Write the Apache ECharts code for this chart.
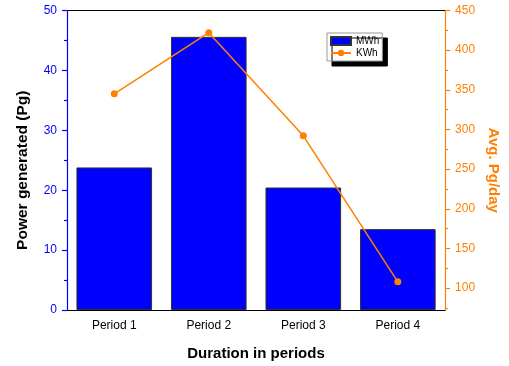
<!DOCTYPE html>
<html><head><meta charset="utf-8">
<script src="https://cdn.jsdelivr.net/npm/echarts@6/dist/echarts.min.js"></script>
<style>html,body{margin:0;padding:0;background:#fff}#c{width:509px;height:366px}</style>
</head><body><div id="c"></div>
<script>
const categories = ['Period 1', 'Period 2', 'Period 3', 'Period 4'];
const mwh = [23.8, 45.6, 20.45, 13.5];
const kwh = [345, 422, 292, 108];
const rightMajorTicks = [100, 150, 200, 250, 300, 350, 400, 450];
const rightMinorTicks = [75, 125, 175, 225, 275, 325, 375, 425];

const FONT = 'Liberation Sans, Arial, sans-serif';
const BLUE = '#0000ff', ORANGE = '#ff8000';
const chart = echarts.init(document.getElementById('c'), null, {renderer: 'canvas'});
const grid = {left: 67, right: 61, top: 10.5, bottom: 54, containLabel: false};
const rMin = 72.5, rMax = 450;
chart.setOption({
  animation: false,
  grid: grid,
  legend: {
    orient: 'vertical', left: 327, top: 33,
    backgroundColor: '#fff', borderColor: '#999', borderWidth: 1,
    shadowColor: '#000', shadowBlur: 0, shadowOffsetX: 5, shadowOffsetY: 5,
    padding: [2, 3, 2, 3], itemGap: 0, itemWidth: 20, itemHeight: 8,
    textStyle: {fontFamily: FONT, fontSize: 10, color: '#000', lineHeight: 12},
    data: [{name: 'MWh', icon: 'rect'}, {name: 'KWh'}]
  },
  xAxis: [
    {type: 'category', data: categories, position: 'bottom',
     axisLine: {lineStyle: {color: '#000', width: 1.2}},
     axisTick: {alignWithLabel: true, length: 5, lineStyle: {color: '#000', width: 1.2}},
     axisLabel: {fontFamily: FONT, fontSize: 12, color: '#000', margin: 10},
     name: 'Duration in periods', nameLocation: 'middle', nameGap: 36,
     nameTextStyle: {fontFamily: FONT, fontSize: 15, fontWeight: 'bold', color: '#000'}},
    {type: 'category', data: categories, position: 'bottom',
     axisLine: {show: false},
     axisTick: {length: 3, lineStyle: {color: '#000', width: 1.2}},
     axisLabel: {show: false}},
    {type: 'category', data: categories, position: 'top',
     axisLine: {lineStyle: {color: '#000', width: 1.2}},
     axisTick: {alignWithLabel: true, inside: true, length: 6, lineStyle: {color: '#000', width: 1.2}},
     axisLabel: {show: false}},
    {type: 'category', data: categories, position: 'top',
     axisLine: {show: false},
     axisTick: {inside: true, length: 4, lineStyle: {color: '#000', width: 1.2}},
     axisLabel: {show: false}}
  ],
  yAxis: [
    {type: 'value', min: 0, max: 50, interval: 10, position: 'left',
     axisLine: {show: true, lineStyle: {color: BLUE, width: 1.2}},
     axisTick: {show: true, length: 5, lineStyle: {color: BLUE, width: 1.2}},
     minorTick: {show: true, splitNumber: 2, length: 3, lineStyle: {color: BLUE, width: 1.2}},
     splitLine: {show: false},
     axisLabel: {fontFamily: FONT, fontSize: 12, color: BLUE, margin: 10},
     name: 'Power generated (Pg)', nameLocation: 'middle', nameGap: 36,
     nameTextStyle: {fontFamily: FONT, fontSize: 15.5, fontWeight: 'bold', color: '#000', padding: [0, 20, 0, 0]}},
    {type: 'value', min: rMin, max: rMax, position: 'right',
     axisLine: {show: true, lineStyle: {color: ORANGE, width: 1.2}},
     axisTick: {show: true, length: 5, customValues: rightMajorTicks, lineStyle: {color: ORANGE, width: 1.2}},
     splitLine: {show: false},
     axisLabel: {fontFamily: FONT, fontSize: 12, color: ORANGE, margin: 10, customValues: rightMajorTicks},
     name: 'Avg. Pg/day', nameLocation: 'middle', nameGap: 40, nameRotate: -90,
     nameTextStyle: {fontFamily: FONT, fontSize: 15, fontWeight: 'bold', color: ORANGE, padding: [0, 0, 0, 20]}},
    {type: 'value', min: rMin, max: rMax, position: 'right',
     axisLine: {show: false},
     axisTick: {show: true, length: 3, customValues: rightMinorTicks, lineStyle: {color: ORANGE, width: 1.2}},
     splitLine: {show: false},
     axisLabel: {show: false, customValues: []}}
  ],
  series: [
    {name: 'MWh', type: 'bar', data: mwh, xAxisIndex: 0, yAxisIndex: 0,
     barCategoryGap: '20%',
     itemStyle: {color: BLUE, borderColor: '#333', borderWidth: 1}},
    {name: 'KWh', type: 'line', data: kwh, xAxisIndex: 0, yAxisIndex: 1,
     symbol: 'circle', symbolSize: 7,
     lineStyle: {color: ORANGE, width: 1.5}, itemStyle: {color: ORANGE}}
  ]
});
</script></body></html>
